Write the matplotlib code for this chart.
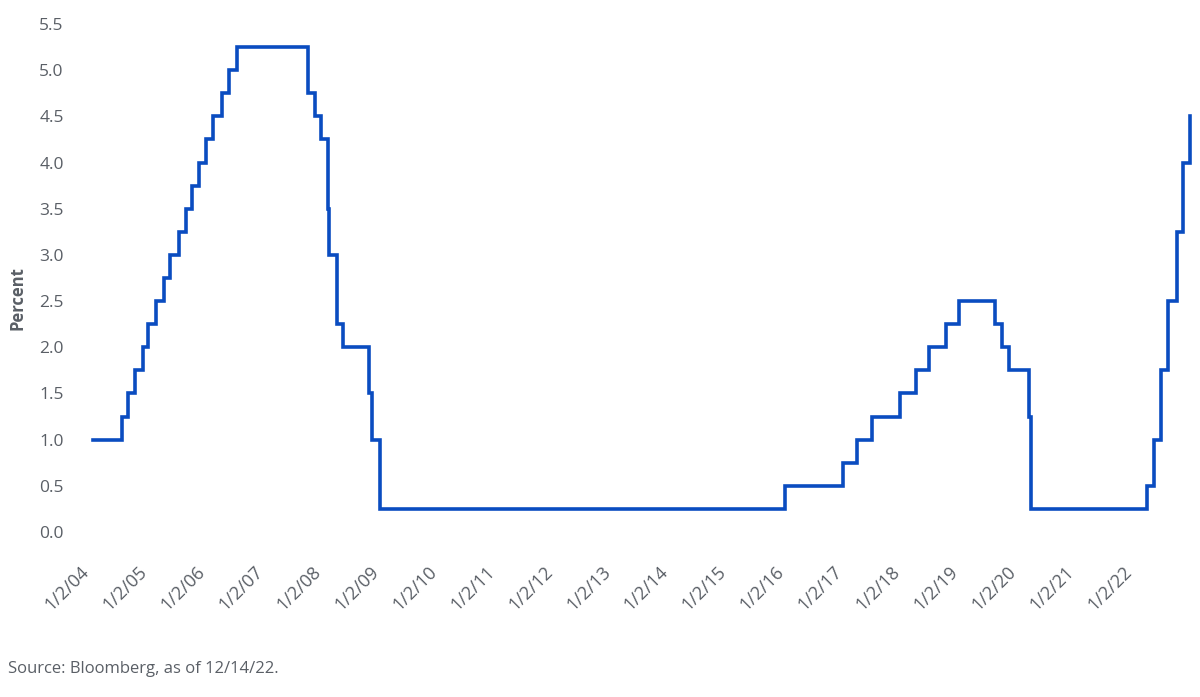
import matplotlib
matplotlib.use('Agg')
import matplotlib.pyplot as plt
import pandas as pd

# Fed funds target rate (upper bound), change dates and new levels
change_dates = [
    '2004-01-02', '2004-06-30', '2004-08-10', '2004-09-21', '2004-11-10', '2004-12-14',
    '2005-02-02', '2005-03-22', '2005-05-03', '2005-06-30', '2005-08-09', '2005-09-20',
    '2005-11-01', '2005-12-13', '2006-01-31', '2006-03-28', '2006-05-10', '2006-06-29',
    '2007-09-18', '2007-10-31', '2007-12-11', '2008-01-22', '2008-01-30', '2008-03-18',
    '2008-04-30', '2008-10-08', '2008-10-29', '2008-12-16', '2015-12-16', '2016-12-14',
    '2017-03-15', '2017-06-14', '2017-12-13', '2018-03-21', '2018-06-13', '2018-09-26',
    '2018-12-19', '2019-07-31', '2019-09-18', '2019-10-30', '2020-03-03', '2020-03-16',
    '2022-03-16', '2022-05-04', '2022-06-15', '2022-07-27', '2022-09-21', '2022-11-02',
    '2022-12-14',
]
rate_levels = [
    1.00, 1.25, 1.50, 1.75, 2.00, 2.25,
    2.50, 2.75, 3.00, 3.25, 3.50, 3.75,
    4.00, 4.25, 4.50, 4.75, 5.00, 5.25,
    4.75, 4.50, 4.25, 3.50, 3.00, 2.25,
    2.00, 1.50, 1.00, 0.25, 0.50, 0.75,
    1.00, 1.25, 1.50, 1.75, 2.00, 2.25,
    2.50, 2.25, 2.00, 1.75, 1.25, 0.25,
    0.50, 1.00, 1.75, 2.50, 3.25, 4.00,
    4.50,
]
tick_years = list(range(2004, 2023))
y_ticks = [0.0, 0.5, 1.0, 1.5, 2.0, 2.5, 3.0, 3.5, 4.0, 4.5, 5.0, 5.5]
source_note = 'Source: Bloomberg, as of 12/14/22.'

line_color = '#0a4cc0'
text_color = '#5a5f66'

plt.rcParams['font.family'] = ['Open Sans', 'DejaVu Sans']

fig = plt.figure(figsize=(12, 6.97), dpi=100)
ax = fig.add_axes([93 / 1200, 1 - 532 / 697, (1190 - 93) / 1200, (532 - 24) / 697])

dates = pd.to_datetime(change_dates)
ax.step(dates, rate_levels, where='post', color=line_color, linewidth=2.6,
        solid_joinstyle='miter', clip_on=False)

ax.set_xlim(pd.Timestamp('2004-01-02'), pd.Timestamp('2022-12-14'))
ax.set_ylim(0, 5.5)

tick_dates = [pd.Timestamp(year=y, month=1, day=2) for y in tick_years]
ax.set_xticks(tick_dates)
ax.set_xticklabels(['1/2/{:02d}'.format(y % 100) for y in tick_years],
                   rotation=45, ha='right', rotation_mode='default')
ax.set_yticks(y_ticks)
ax.set_yticklabels(['{:.1f}'.format(v) for v in y_ticks])

ax.tick_params(axis='x', length=0, pad=22, labelsize=13, labelcolor=text_color)
ax.tick_params(axis='y', length=0, pad=21, labelsize=12.5, labelcolor=text_color)
for spine in ax.spines.values():
    spine.set_visible(False)

fig.text(17 / 1200, 1 - 298 / 697, 'Percent', rotation=90, ha='center', va='center',
         fontsize=12, fontweight='bold', color=text_color)
fig.text(8 / 1200, 1 - 669 / 697, source_note, ha='left', va='center',
         fontsize=12, color=text_color)

fig.savefig('out.png', dpi=100, facecolor='white')
